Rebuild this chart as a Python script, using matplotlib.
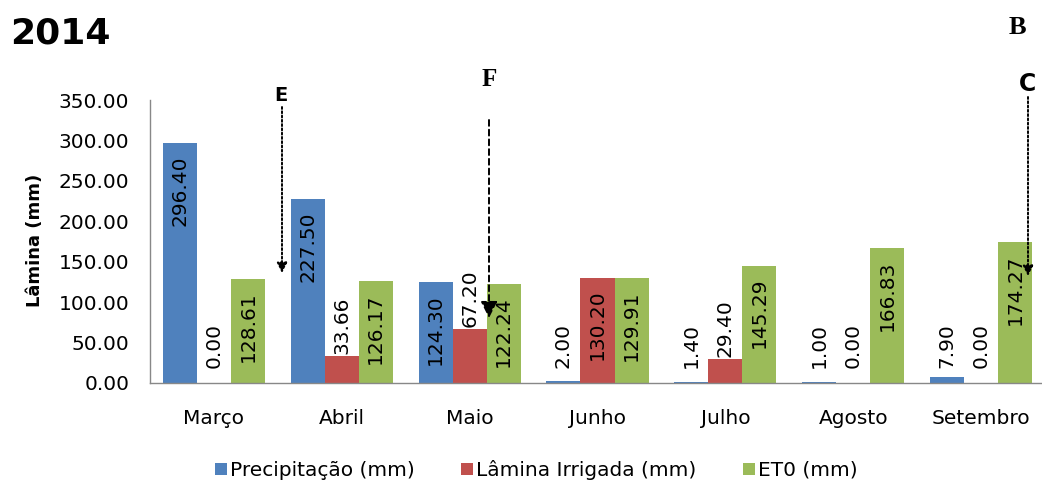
import numpy as np
import matplotlib.pyplot as plt

meses = ['Março', 'Abril', 'Maio', 'Junho', 'Julho', 'Agosto', 'Setembro']
precipitacao = [296.40, 227.50, 124.30, 2.00, 1.40, 1.00, 7.90]
lamina_irrigada = [0.00, 33.66, 67.20, 130.20, 29.40, 0.00, 0.00]
et0 = [128.61, 126.17, 122.24, 129.91, 145.29, 166.83, 174.27]

series = [
    ('Precipitação (mm)', precipitacao, '#4F81BD'),
    ('Lâmina Irrigada (mm)', lamina_irrigada, '#C0504D'),
    ('ET0 (mm)', et0, '#9BBB59'),
]

plt.rcParams['font.family'] = ['DejaVu Sans']

W, H = 1042, 483
fig = plt.figure(figsize=(W / 100, H / 100), dpi=100)
ax = fig.add_axes([150 / W, 100 / H, 895 / W, 283 / H])

x = np.arange(len(meses))
largura = 0.266
fs = 14.5

for i, (nome, valores, cor) in enumerate(series):
    pos = x + (i - 1) * largura
    ax.bar(pos, valores, largura, color=cor, label=nome)
    for xp, v in zip(pos, valores):
        txt = '%.2f' % v
        if v >= 100:
            ax.text(xp, v - 15, txt, rotation=90, ha='center', va='top',
                    fontsize=fs, color='black')
        else:
            ax.text(xp, max(v + 2.5, 18), txt, rotation=90, ha='center',
                    va='bottom', fontsize=fs, color='black')

ax.set_xlim(-0.5, len(meses) - 0.5)
ax.set_ylim(0, 350)
ax.set_yticks(np.arange(0, 351, 50))
ax.yaxis.set_major_formatter(plt.FormatStrFormatter('%.2f'))
ax.set_xticks(x)
ax.set_xticklabels(meses)
ax.tick_params(axis='y', length=0, pad=15, labelsize=fs)
ax.tick_params(axis='x', length=0, pad=19, labelsize=fs)
for s in ['top', 'right']:
    ax.spines[s].set_visible(False)
for s in ['left', 'bottom']:
    ax.spines[s].set_color('#888888')
    ax.spines[s].set_linewidth(1)

fig.text(35 / W, 1 - 240 / H, 'Lâmina (mm)', rotation=90, ha='center',
         va='center', fontsize=13, fontweight='bold')

fig.legend(loc='center', bbox_to_anchor=(536 / W, 13 / H), ncol=3,
           frameon=False, fontsize=14.5, handlelength=0.6, handleheight=0.6,
           handletextpad=0.15, columnspacing=2.3)

# title and panel letters
fig.text(10 / W, 1 - 33 / H, '2014', fontsize=26, fontweight='bold',
         ha='left', va='center')
fig.text(1017 / W, 1 - 28 / H, 'B', fontsize=19, fontweight='bold',
         family='Liberation Serif', ha='center', va='center')
fig.text(489 / W, 1 - 79 / H, 'F', fontsize=18, fontweight='bold',
         family='Liberation Serif', ha='center', va='center')
fig.text(281 / W, 1 - 96 / H, 'E', fontsize=14, fontweight='bold',
         ha='center', va='center')
fig.text(1027 / W, 1 - 84 / H, 'C', fontsize=17, fontweight='bold',
         ha='center', va='center')

# dotted / dashed arrows
setas = [
    ((282, H - 107), (282, H - 273), (0, (1, 1.2)), 6),
    ((489, H - 120), (489, H - 318), (0, (3, 2)), 10),
    ((1028, H - 97), (1028, H - 276), (0, (1, 1.2)), 6),
]
for ini, fim, estilo, cab in setas:
    ax.annotate('', xy=fim, xytext=ini, xycoords='figure pixels',
                textcoords='figure pixels', annotation_clip=False,
                arrowprops=dict(arrowstyle='-|>,head_length=%.2f,head_width=%.2f'
                                % (cab / 10, cab / 20),
                                linestyle=estilo, color='black', lw=1.4,
                                shrinkA=0, shrinkB=0))

fig.savefig('out.png', dpi=100)
